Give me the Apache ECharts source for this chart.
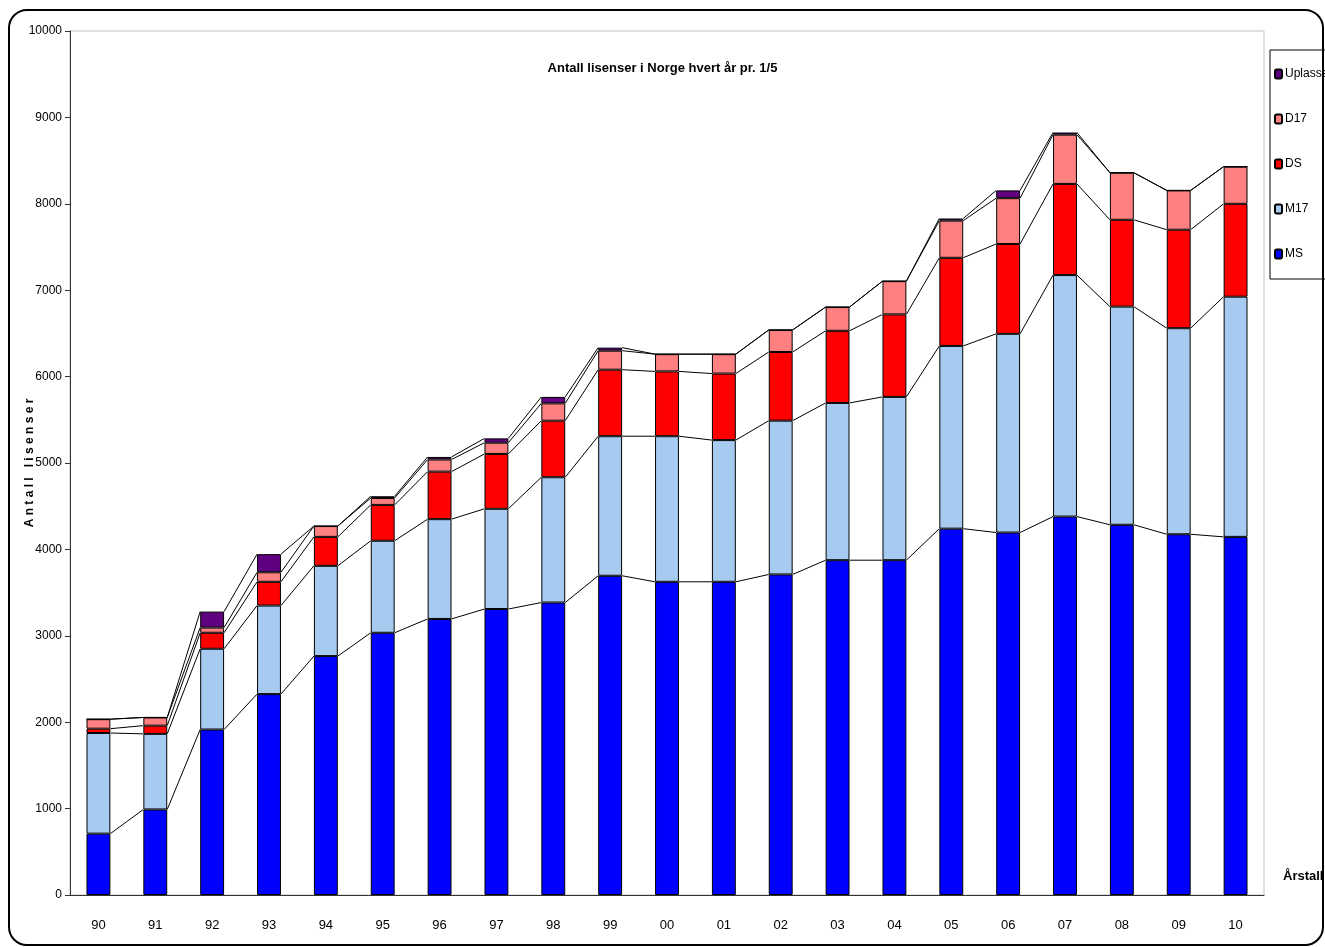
<!DOCTYPE html>
<html>
<head>
<meta charset="utf-8">
<script src="https://cdn.jsdelivr.net/npm/echarts@6/dist/echarts.min.js"></script>
<style>
  html, body { margin: 0; padding: 0; background: #fff; }
  #main { width: 1325px; height: 947px; }
</style>
</head>
<body>
<div id="main"></div>
<script>
// data
var years = ['90','91','92','93','94','95','96','97','98','99','00','01','02','03','04','05','06','07','08','09','10'];
var ms       = [710, 990, 1915, 2325, 2765, 3035, 3195, 3310, 3385, 3695, 3625, 3625, 3710, 3875, 3875, 4240, 4195, 4380, 4285, 4175, 4145];
var m17      = [1165, 875, 935, 1025, 1045, 1065, 1155, 1160, 1450, 1615, 1685, 1640, 1780, 1820, 1890, 2115, 2300, 2795, 2525, 2385, 2780];
var ds       = [50, 95, 185, 275, 335, 415, 550, 635, 655, 770, 750, 770, 795, 835, 955, 1020, 1040, 1055, 1005, 1140, 1075];
var d17      = [110, 95, 60, 110, 125, 80, 140, 130, 200, 220, 200, 225, 255, 275, 385, 430, 530, 570, 545, 455, 430];
var uplasser = [0, 0, 185, 210, 0, 20, 30, 50, 75, 35, 0, 0, 0, 0, 0, 25, 90, 25, 0, 0, 0];
var yTicks = [0, 1000, 2000, 3000, 4000, 5000, 6000, 7000, 8000, 9000, 10000];

var font = "'Liberation Sans Narrow', 'Liberation Sans', Arial, sans-serif";
var barRatio = 0.42;

// cumulative tops for the series lines
var layers = [ms, m17, ds, d17, uplasser];
var cum = [];
var run = years.map(function () { return 0; });
layers.forEach(function (arr) {
    run = run.map(function (v, i) { return v + arr[i]; });
    cum.push(run.slice());
});

var chart = echarts.init(document.getElementById('main'));

function bar(name, data, color) {
    return {
        name: name,
        type: 'bar',
        stack: 'tot',
        barWidth: (barRatio * 100) + '%',
        data: data,
        itemStyle: { color: color, borderColor: '#000', borderWidth: 1 }
    };
}

var option = {
    animation: false,
    title: {
        text: 'Antall lisenser i Norge hvert år pr. 1/5',
        left: 'center',
        top: 57,
        textStyle: { fontFamily: font, fontSize: 13, fontWeight: 'bold', color: '#000' }
    },
    legend: {
        orient: 'vertical',
        left: 1270,
        top: 50,
        padding: [18, 30, 19, 4],
        itemGap: 33,
        itemWidth: 7,
        itemHeight: 9,
        borderColor: '#000',
        borderWidth: 1,
        data: ['Uplasser', 'D17', 'DS', 'M17', 'MS'],
        textStyle: { fontFamily: font, fontSize: 12, color: '#000', padding: [0, 0, 0, -2] }
    },
    grid: {
        left: 70, right: 61, top: 31, bottom: 52,
        outerBoundsMode: 'none',
        containLabel: false,
        show: true, borderColor: '#c0c0c0', borderWidth: 1
    },
    xAxis: {
        type: 'category',
        data: years,
        axisLine: { lineStyle: { color: '#333', width: 1 } },
        axisTick: { length: 6, lineStyle: { color: '#333' } },
        axisLabel: { margin: 24, fontFamily: font, fontSize: 13, color: '#000' }
    },
    yAxis: {
        type: 'value',
        min: 0, max: 10000, interval: 1000,
        name: 'A n t a l l   l i s e n s e r',
        nameLocation: 'middle',
        nameRotate: 90,
        nameGap: 34,
        nameMoveOverlap: false,
        nameTextStyle: { fontFamily: font, fontSize: 12, fontWeight: 'bold', color: '#000' },
        splitLine: { show: false },
        axisLine: { show: true, lineStyle: { color: '#333', width: 1 } },
        axisTick: { show: true, length: 5, lineStyle: { color: '#333' } },
        axisLabel: {
            margin: 8, fontFamily: font, fontSize: 12, color: '#000',
            formatter: function (v) { return yTicks.indexOf(v) >= 0 ? String(v) : ''; }
        }
    },
    graphic: [
        {
            type: 'rect',
            shape: { x: 9, y: 10, width: 1314, height: 935, r: 18 },
            style: { fill: 'none', stroke: '#000', lineWidth: 2 },
            silent: true
        },
        {
            type: 'text',
            left: 1283, top: 870,
            style: { text: 'Årstall', fontFamily: font, fontSize: 13, fontWeight: 'bold', fill: '#000' }
        }
    ],
    series: [
        bar('MS', ms, '#0000ff'),
        bar('M17', m17, '#a6caf0'),
        bar('DS', ds, '#ff0000'),
        bar('D17', d17, '#ff8080'),
        bar('Uplasser', uplasser, '#600080'),
        {
            // series lines between neighbouring bars
            name: 'lines',
            type: 'custom',
            silent: true,
            z: 3,
            data: years.slice(0, years.length - 1).map(function (y, i) { return [i]; }),
            encode: { x: 0 },
            renderItem: function (params, api) {
                var i = params.dataIndex;
                var half = api.size([1, 0])[0] * barRatio / 2;
                var kids = cum.map(function (c) {
                    var a = api.coord([i, c[i]]);
                    var b = api.coord([i + 1, c[i + 1]]);
                    return {
                        type: 'line',
                        shape: { x1: a[0] + half, y1: a[1], x2: b[0] - half, y2: b[1] },
                        style: { stroke: '#000', lineWidth: 1 }
                    };
                });
                return { type: 'group', children: kids };
            }
        }
    ]
};

chart.setOption(option);
</script>
</body>
</html>
